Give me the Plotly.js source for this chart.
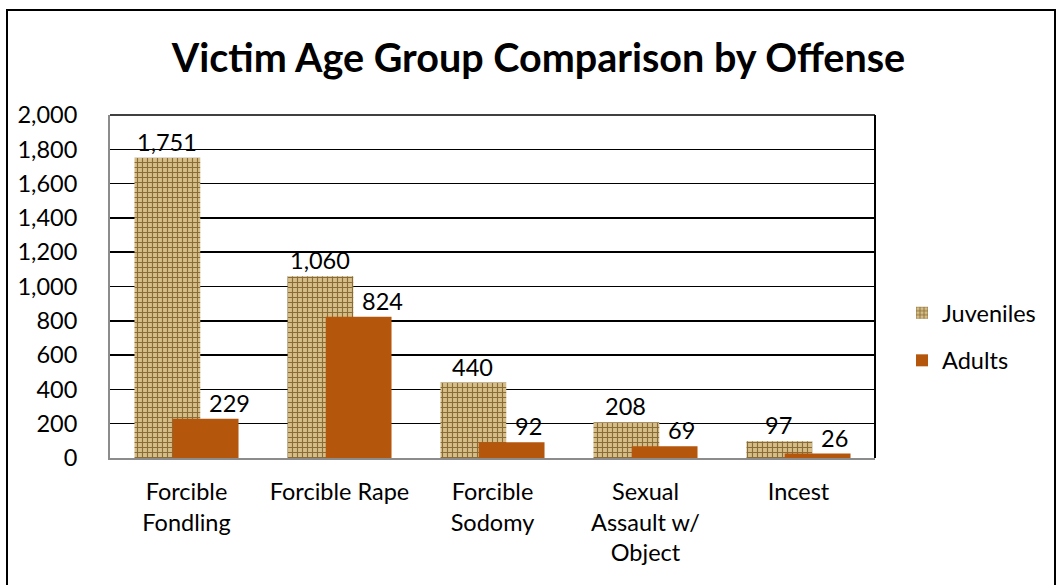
<!DOCTYPE html>
<html>
<head>
<meta charset="utf-8">
<script src="https://cdn.plot.ly/plotly-3.0.1.min.js"></script>
<style>
html,body{margin:0;padding:0;background:#fff;}
#chart{width:1058px;height:585px;}
</style>
</head>
<body>
<div id="chart"></div>
<script>
const categories = ["Forcible<br>Fondling", "Forcible Rape", "Forcible<br>Sodomy", "Sexual<br>Assault w/<br>Object", "Incest"];
const juveniles = [1751, 1060, 440, 208, 97];
const adults = [229, 824, 92, 69, 26];
const yTicks = [0, 200, 400, 600, 800, 1000, 1200, 1400, 1600, 1800, 2000];
const yTickLabels = ["0", "200", "400", "600", "800", "1,000", "1,200", "1,400", "1,600", "1,800", "2,000"];

const FONT = "Lato, 'Open Sans', sans-serif";
const FS = 23.5;
const fmt = v => v.toLocaleString("en-US");

const L = 110, R = 183, T = 115, B = 127;
const W = 1058, H = 585;
const pw = W - L - R, ph = H - T - B;
const px = x => (x - L) / pw;
const py = y => (H - B - y) / ph;

const barWidth = 0.43;

const traces = [
  {
    type: "bar", name: "Juveniles", x: categories, y: juveniles,
    width: barWidth, offset: -0.34, legendgroup: "j",
    marker: {
      color: "#CFB57E",
      pattern: {shape: "+", fgcolor: "#8A6C38", bgcolor: "#D6BE88", size: 5, solidity: 0.4}
    },
    hoverinfo: "x+y"
  },
  {
    type: "bar", name: "Adults", x: categories, y: adults,
    width: barWidth, offset: -0.09, legendgroup: "a",
    marker: {color: "#B4560C"},
    hoverinfo: "x+y"
  }
];

const annotations = [];
categories.forEach((c, i) => {
  annotations.push({
    x: c, y: juveniles[i], xref: "x", yref: "y",
    text: fmt(juveniles[i]), showarrow: false,
    xanchor: "center", yanchor: "bottom", xshift: -20, yshift: 0,
    font: {family: FONT, size: FS, color: "#000"}
  });
  annotations.push({
    x: c, y: adults[i], xref: "x", yref: "y",
    text: fmt(adults[i]), showarrow: false,
    xanchor: "left", yanchor: "bottom", xshift: 20, yshift: 0,
    font: {family: FONT, size: FS, color: "#000"}
  });
});

const layout = {
  width: W, height: H,
  margin: {l: L, r: R, t: T, b: B, pad: 0},
  paper_bgcolor: "#fff", plot_bgcolor: "#fff",
  barmode: "overlay",
  font: {family: FONT, size: FS, color: "#000"},
  title: {
    text: "<b>Victim Age Group Comparison by Offense</b>",
    font: {family: FONT, size: 39.5, color: "#000"},
    x: 538.5 / W, xref: "container", xanchor: "center",
    y: 1 - 58 / H, yref: "container", yanchor: "middle"
  },
  xaxis: {
    type: "category",
    showgrid: false, zeroline: false,
    showline: true, linecolor: "#8c8c8c", linewidth: 2,
    ticks: "", tickfont: {family: FONT, size: FS, color: "#000"},
    ticklabelstandoff: 12,
    range: [-0.5, 4.5], fixedrange: true
  },
  yaxis: {
    range: [0, 2000], tickvals: yTicks, ticktext: yTickLabels,
    showgrid: true, gridcolor: "#000", gridwidth: 1.5,
    zeroline: false,
    showline: true, linecolor: "#8c8c8c", linewidth: 2,
    ticks: "", tickfont: {family: FONT, size: FS, color: "#000"},
    ticklabelstandoff: 26, fixedrange: true
  },
  legend: {
    x: px(902), xanchor: "left", y: py(337), yanchor: "middle",
    font: {family: FONT, size: FS, color: "#000"},
    traceorder: "grouped", tracegroupgap: 14,
    bgcolor: "rgba(0,0,0,0)", itemwidth: 30
  },
  annotations: annotations,
  shapes: [
    {type: "line", xref: "paper", yref: "paper", x0: 1, x1: 1, y0: 0, y1: 1,
     line: {color: "#000", width: 2}},
    {type: "line", xref: "paper", yref: "paper", x0: 0, x1: 1, y0: 1, y1: 1,
     line: {color: "#000", width: 1.5}},
    {type: "rect", xref: "paper", yref: "paper",
     x0: px(7), x1: px(1055), y0: py(600), y1: py(10),
     line: {color: "#000", width: 2}, fillcolor: "rgba(0,0,0,0)"}
  ],
  showlegend: true
};

Plotly.newPlot("chart", traces, layout, {displayModeBar: false, staticPlot: true});
</script>
</body>
</html>
